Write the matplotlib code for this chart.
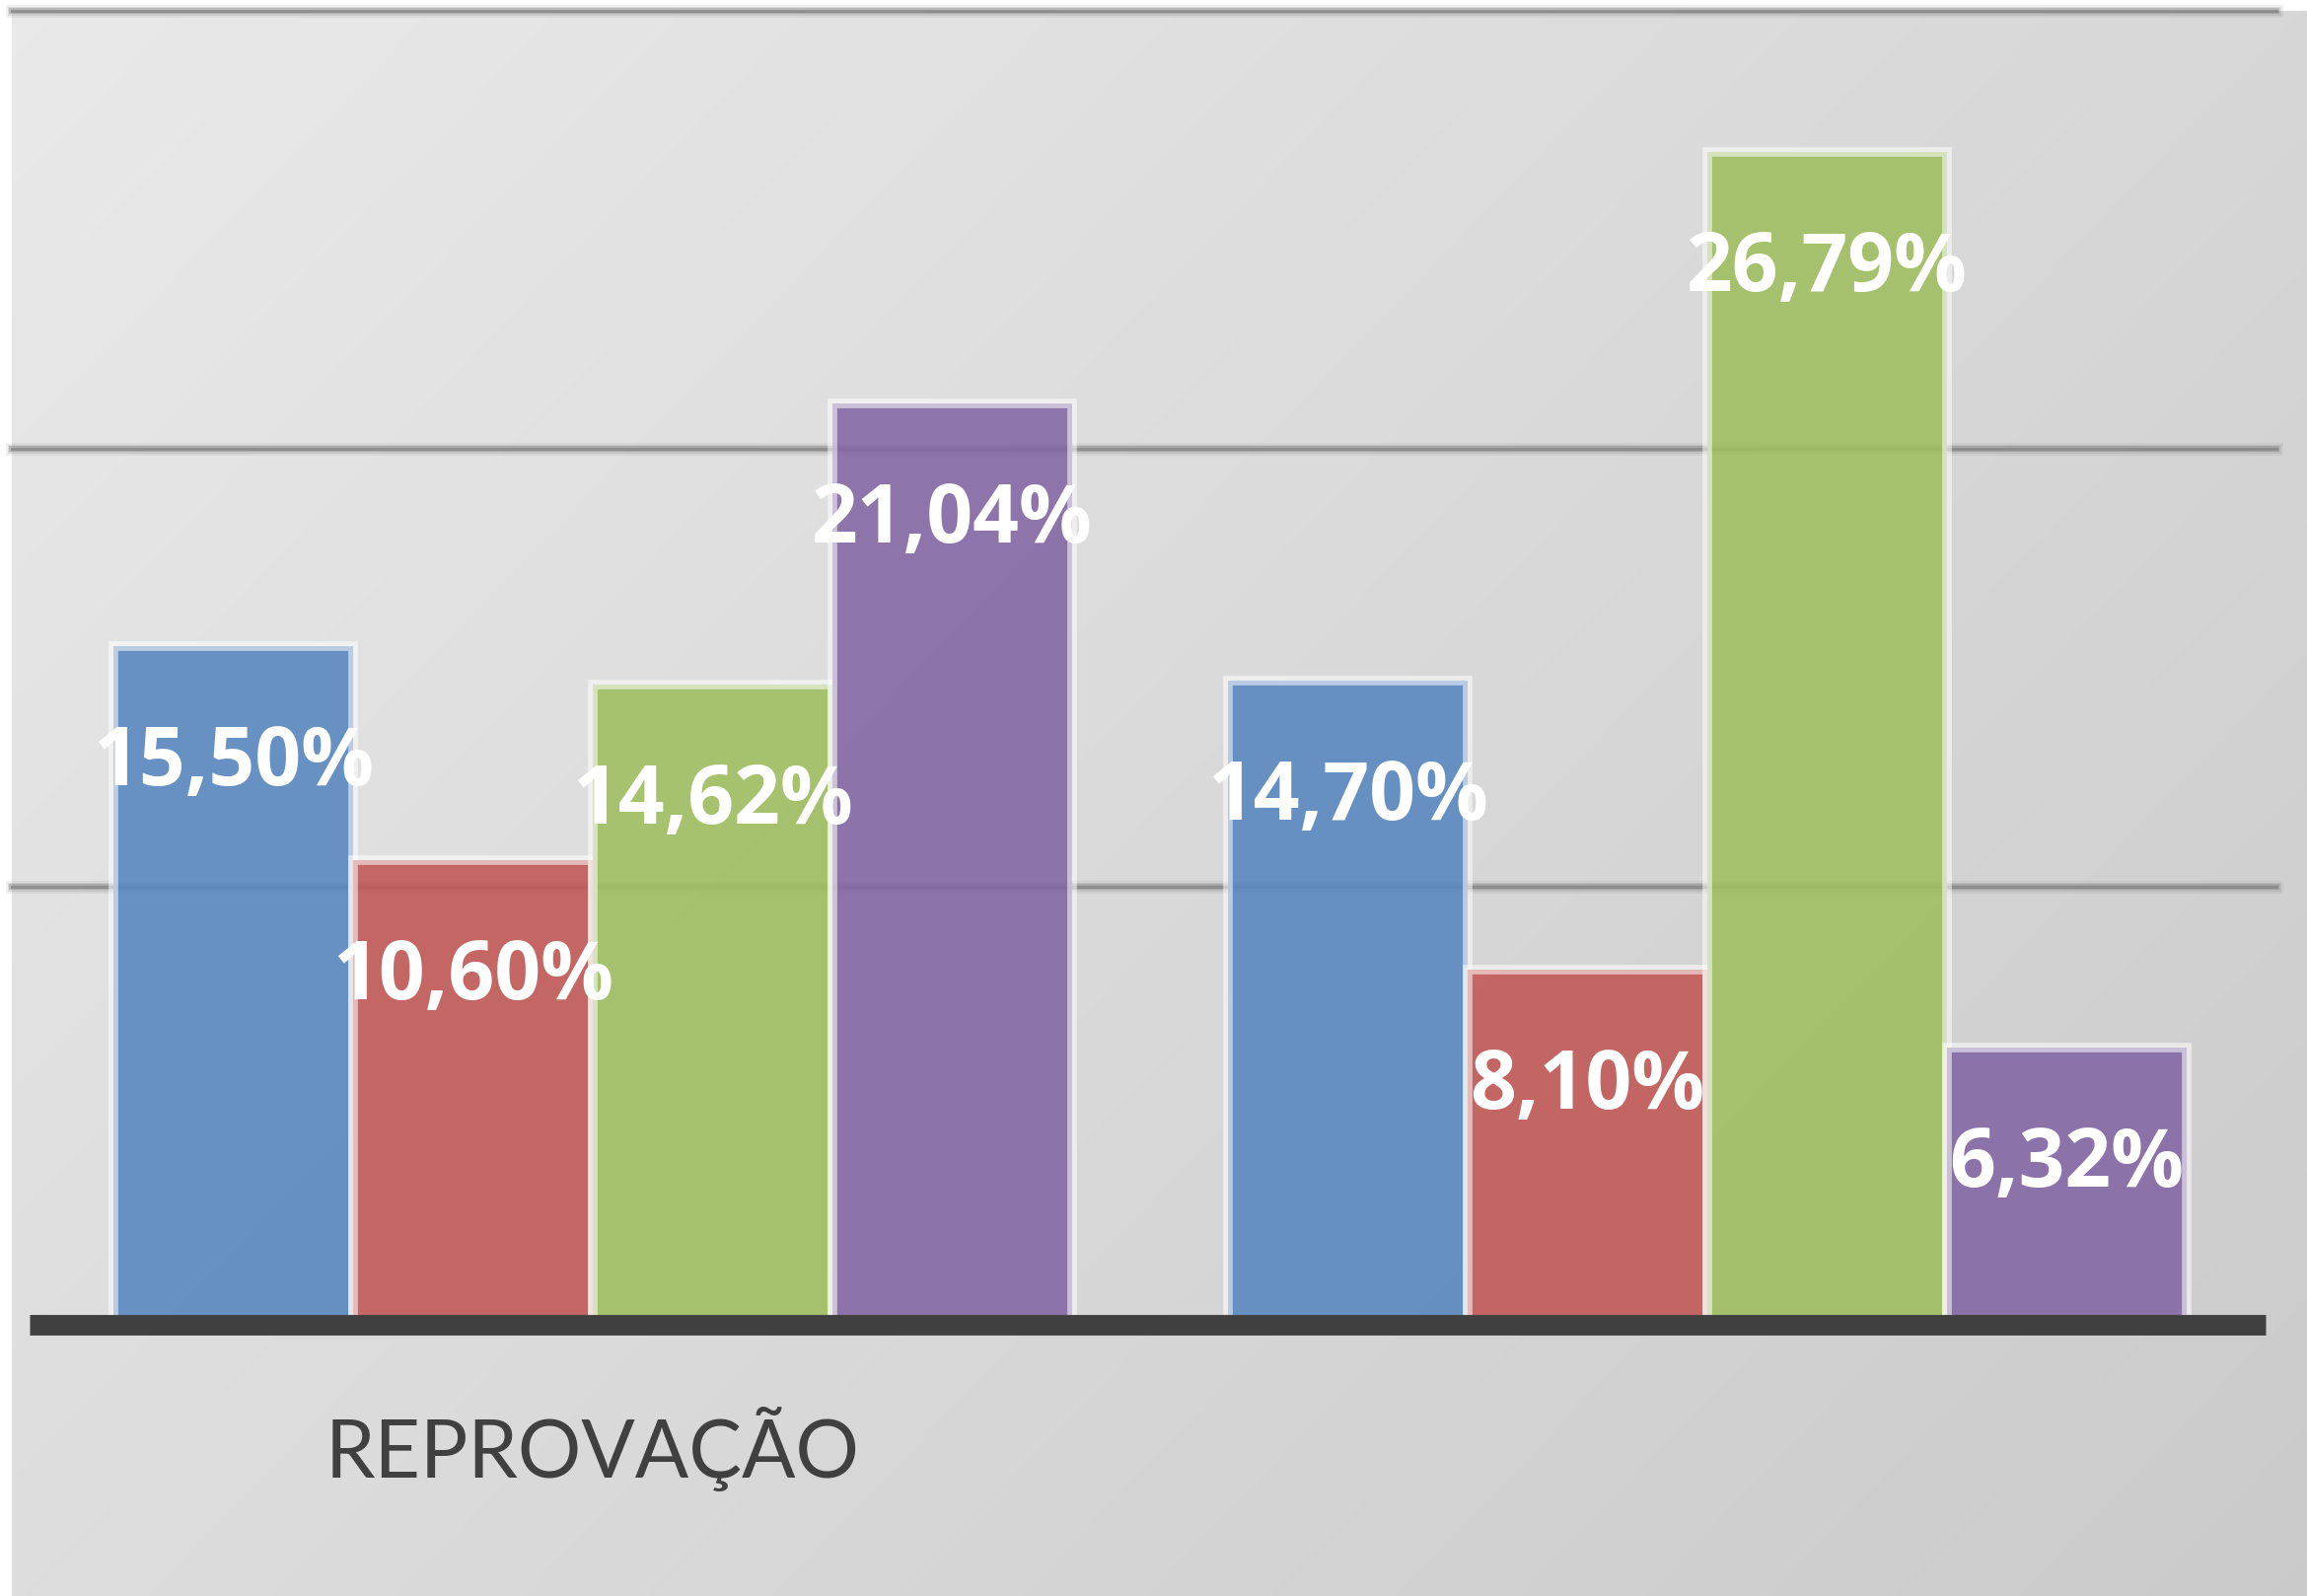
import matplotlib
matplotlib.use('Agg')
import matplotlib.pyplot as plt
import numpy as np

# data
categories = ['REPROVAÇÃO', '']
serie_azul = [15.50, 14.70]
serie_vermelha = [10.60, 8.10]
serie_verde = [14.62, 26.79]
serie_roxa = [21.04, 6.32]
series = [serie_azul, serie_vermelha, serie_verde, serie_roxa]

# colours (office palette, a bit see-through)
cores = ['#5a88c0', '#c25a57', '#a0bf62', '#8469a6']
grid_ticks = [10, 20, 30]

W, H = 2339, 1618
bar_w = 0.215


def background(fig):
    # diagonal grey gradient, light at top-left
    bg = fig.add_axes([12 / W, 0, 1 - 12 / W, 1 - 11 / H], zorder=-10)
    xx, yy = np.meshgrid(np.linspace(0, 1, 400), np.linspace(0, 1, 300))
    t = (xx * 0.6 + yy * 0.4)
    grey = 0.915 - 0.12 * t
    img = np.dstack([grey, grey, grey])
    bg.imshow(img, aspect='auto', extent=[0, 1, 1, 0], interpolation='bilinear')
    bg.axis('off')


def gridlines(ax):
    # soft blurred lines like a shadow
    for y in grid_ticks:
        for lw, a in [(13, 0.10), (9, 0.18), (6, 0.35), (3, 0.6)]:
            ax.axhline(y, color='#7c7c7c', linewidth=lw * 0.72, alpha=a,
                       zorder=1, clip_on=False)


def bars(ax):
    x = np.arange(len(categories))
    offsets = (np.arange(len(series)) - 1.5) * bar_w
    for vals, off, c in zip(series, offsets, cores):
        face = matplotlib.colors.to_rgba(c, 0.9)
        ax.bar(x + off, vals, width=bar_w, color=face,
               edgecolor=(1, 1, 1, 0.55), linewidth=7, zorder=2)
        for xi, v in zip(x + off, vals):
            txt = f'{v:.2f}%'.replace('.', ',')
            ax.annotate(txt, (xi, v), xytext=(0, -141), textcoords='offset pixels',
                        ha='center', va='baseline', color='white',
                        fontsize=59, fontweight='bold', family='Open Sans', zorder=5)


def baseline(ax):
    ax.plot([-0.505, 1.501], [0, 0], color='#404040', linewidth=15,
            solid_capstyle='butt', zorder=4, clip_on=False)


def category_labels(ax):
    for i, name in enumerate(categories):
        ax.text(i, -3.49, name, ha='center', va='baseline', color='#404040',
                fontsize=58, family='Lato', clip_on=False)


fig = plt.figure(figsize=(W / 100, H / 100), dpi=100, facecolor='white')
background(fig)
ax = fig.add_axes([12 / W, (H - 1343) / H, (2308 - 12) / W, 1332 / H])
ax.set_facecolor('none')
ax.set_xlim((12 - 601) / 1130, (2308 - 601) / 1130)
ax.set_ylim(0, 30)
ax.axis('off')

gridlines(ax)
bars(ax)
baseline(ax)
category_labels(ax)

fig.savefig('out.png', dpi=100, facecolor='white')
